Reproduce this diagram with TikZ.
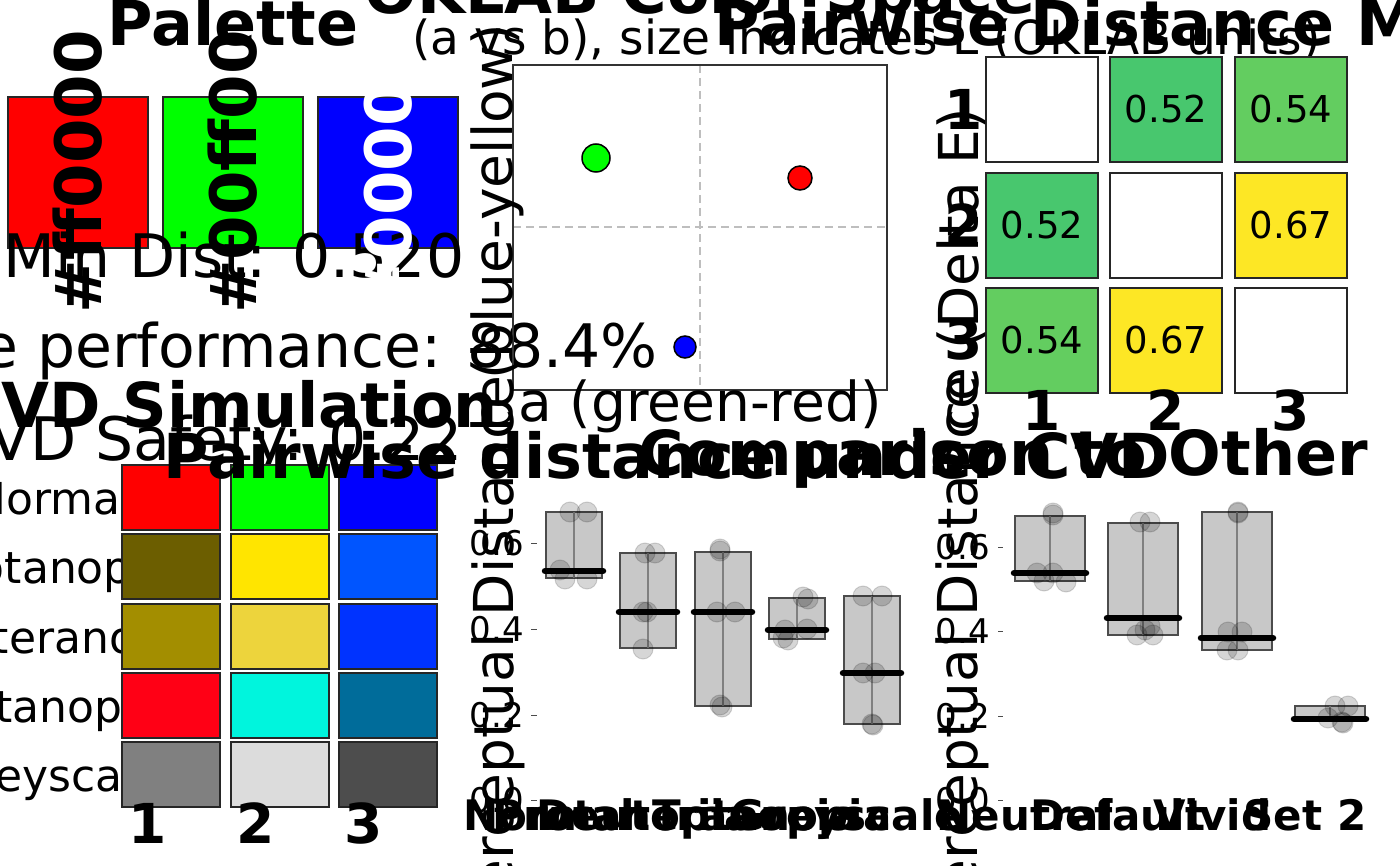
\documentclass[tikz,border=0pt]{standalone}
\usepackage{fontspec}
\setmainfont{DejaVu Sans}
\usetikzlibrary{calc}
\definecolor{grnA}{RGB}{72,199,110}
\definecolor{grnB}{RGB}{99,205,96}
\definecolor{yelC}{RGB}{253,231,37}
\definecolor{proA}{RGB}{108,94,0}
\definecolor{proB}{RGB}{255,229,0}
\definecolor{proC}{RGB}{0,85,255}
\definecolor{deuA}{RGB}{163,142,0}
\definecolor{deuB}{RGB}{237,212,60}
\definecolor{deuC}{RGB}{0,51,255}
\definecolor{triA}{RGB}{255,0,21}
\definecolor{triB}{RGB}{0,245,221}
\definecolor{triC}{RGB}{0,108,154}
\definecolor{greA}{RGB}{128,128,128}
\definecolor{greB}{RGB}{220,220,220}
\definecolor{greC}{RGB}{77,77,77}
\definecolor{boxgray}{RGB}{200,200,200}
\definecolor{dashgray}{RGB}{190,190,190}

\begin{document}
\begin{tikzpicture}[x=1pt, y=-1pt,
  ttl/.style={font=\fontsize{62}{62}\selectfont\bfseries, inner sep=0pt, anchor=base},
  sub/.style={font=\fontsize{60}{60}\selectfont, inner sep=0pt, anchor=base},
  axt/.style={font=\fontsize{55}{55}\selectfont, inner sep=0pt, anchor=base},
  lab/.style={font=\fontsize{44}{44}\selectfont, inner sep=0pt, anchor=base},
  num/.style={font=\fontsize{55}{55}\selectfont\bfseries, inner sep=0pt, anchor=base},
  cat/.style={font=\fontsize{42}{42}\selectfont\bfseries, inner sep=0pt, anchor=base},
  tck/.style={font=\fontsize{34}{34}\selectfont, inner sep=0pt, anchor=base east},
  cell/.style={draw=black!85, line width=1.5pt},
  bx/.style={draw=black!70, line width=1.5pt, fill=boxgray},
  jit/.style={fill=black, fill opacity=0.16, draw=black, draw opacity=0.15, line width=1pt}]
\useasboundingbox (0,0) rectangle (1400,866);
\clip (0,0) rectangle (1400,866);

% palette
\node[ttl] (palT) at (233,46) {Palette};
\foreach \x/\c in {8/red,163/green,318/blue}
  \draw[cell, fill=\c] (\x,97) rectangle ++(140,151);
\node[sub] (minD) at (234,278) {Min Dist: 0.520};
\node[sub, anchor=base east] (perf) at (658,368) {e performance: 88.4\%};
\foreach \x/\hex/\tc [count=\i] in {8/ff0000/black,163/00ff00/black,318/0000ff/white}
  \node[font=\fontsize{64}{64}\selectfont\bfseries, rotate=90, text=\tc, inner sep=0pt] (hex\i) at (\x+70,172) {\#\hex};

% oklab space
\node[ttl] (okT) at (700,14) {OKLAB Color Space};
\node[font=\fontsize{47}{47}\selectfont, inner sep=0pt, anchor=base west] (okS) at (412,55) {(a vs b), size indicates L (OKLAB units)};
\draw[dashgray, line width=1.5pt, dash pattern=on 8pt off 5pt] (700,65) -- (700,390) (513,227) -- (887,227);
\draw[black!80, line width=1.5pt] (513,65) rectangle (887,390);
\draw[fill=green, line width=1.5pt] (596,158) circle[radius=14pt];
\draw[fill=red, line width=1.5pt] (800,178) circle[radius=12pt];
\draw[fill=blue, line width=1.5pt] (685,347) circle[radius=11pt];
\node[axt] (aAx) at (700,421) {a (green-red)};
\node[axt, rotate=90] (bAx) at (512,228) {b (blue-yellow)};

% distance matrix
\node[ttl, anchor=base west] (pdmT) at (714,46) {Pairwise Distance Matrix};
\foreach \xa/\ya/\fc/\v [count=\i] in {986/57/white/{},1110/57/grnA/0.52,1235/57/grnB/0.54,
    986/173/grnA/0.52,1110/173/white/{},1235/173/yelC/0.67,
    986/288/grnB/0.54,1110/288/yelC/0.67,1235/288/white/{}}
  \draw[cell, fill=\fc] (\xa,\ya) rectangle ++(112,105)
    node[midway, font=\fontsize{37}{37}\selectfont] (dm\i) {\v};
\foreach \k/\yc in {1/110,2/225,3/340}
  \node[num, anchor=base east] (mr\k) at (983,\yc+20) {\k};
\foreach \k/\xc in {1/1042,2/1166,3/1291}
  \node[num] (mc\k) at (\xc,430) {\k};
\begin{scope}
  \clip (900,0) rectangle (1400,432);
  \node[axt, rotate=90] (dEax) at (978,358) {Distance (Delta E)};
\end{scope}

% cvd simulation
\node[ttl] (cvdT) at (227,428) {CVD Simulation};
\node[sub] (cvdS) at (205,460) {CVD Safety: 0.22};
\foreach \nm/\yc in {Normal/497,Protanopia/566,Deuteranopia/636,Tritanopia/705,Greyscale/774}
  \node[lab] (r\nm) at (53,\yc+17) {\nm};
\foreach \yr/\ca/\cb/\cc in {465/red/green/blue,534/proA/proB/proC,604/deuA/deuB/deuC,673/triA/triB/triC,742/greA/greB/greC}{
  \draw[cell, fill=\ca] (122,\yr) rectangle ++(98,65);
  \draw[cell, fill=\cb] (231,\yr) rectangle ++(98,65);
  \draw[cell, fill=\cc] (339,\yr) rectangle ++(98,65);
}
\foreach \k/\xc in {1/148,2/256,3/364}
  \node[num] (sc\k) at (\xc,843) {\k};

% pairwise distance boxplot
\foreach \xc/\lo/\hi/\md in {574/512/578/571,648/553/648/612,723/552/706/612,797/598/639/630,872/596/724/673}{
  \draw[bx] (\xc-28,\lo) rectangle (\xc+28,\hi);
  \draw[black!50, line width=1.5pt] (\xc,\lo) -- (\xc,\hi);
}
\foreach \px/\py in {570/512,587/512,560/570,565/579,587/579,645/553,655/553,643/612,647/612,643/649,
    720/549,720/551,717/612,735/612,720/705,722/707,803/597,808/599,785/630,807/629,788/640,783/638,
    863/596,882/596,863/673,875/673,872/724,873/725}
  \draw[jit] (\px,\py) circle[radius=10pt];
\foreach \xc/\md in {574/571,648/612,723/612,797/630,872/673}
  \draw[line width=6.5pt, line cap=round] (\xc-29,\md) -- (\xc+29,\md);
\foreach \v/\yy [count=\i] in {0.6/543,0.4/629,0.2/715,0.0/800}{
  \node[tck] (tm\i) at (524,\yy+12) {\v};
  \draw[black!70, line width=1pt] (531,\yy) -- (537,\yy);
}
\foreach \nm/\xc in {Normal/549,Protanopia/623,Deuteranopia/698,Tritanopia/772,Greyscale/847}
  \node[cat] (xm\nm) at (\xc,830) {\nm};
\node[axt, rotate=90] (pdM) at (513,650) {Perceptual Distance};
\node[ttl, anchor=base west] (pwT) at (163,478) {Pairwise distance under CVD};

% comparison boxplot
\foreach \xc/\lo/\hi/\md in {1050/516/581/573,1143/523/635/626,1237/512/650/632,1330/706/719/719}{
  \draw[bx] (\xc-35,\lo) rectangle (\xc+35,\hi);
  \draw[black!50, line width=1.5pt] (\xc,\lo) -- (\xc,\hi);
}
\foreach \px/\py in {1053/513,1053/515,1037/573,1053/573,1044/581,1066/582,1140/522,1150/522,1150/626,
    1145/630,1137/635,1153/635,1238/512,1238/513,1228/632,1242/632,1227/650,1238/650,
    1335/706,1348/706,1328/718,1342/722,1343/723}
  \draw[jit] (\px,\py) circle[radius=10pt];
\foreach \xc/\md in {1050/573,1143/618,1237/638,1330/719}
  \draw[line width=6.5pt, line cap=round] (\xc-36,\md) -- (\xc+36,\md);
\foreach \v/\yy [count=\i] in {0.6/547,0.4/631,0.2/716,0.0/800}{
  \node[tck] (tr\i) at (990,\yy+12) {\v};
  \draw[black!70, line width=1pt] (998,\yy) -- (1003,\yy);
}
\foreach \nm/\xc [count=\i] in {Neutral/1025,Default/1118,Vivid/1212,Set 2/1305}
  \node[cat] (xr\i) at (\xc,830) {\nm};
\node[axt, rotate=90] (pdR) at (977,650) {Perceptual Distance};
\node[ttl, anchor=base east] (cmpT) at (1368,475) {Comparison to Other};
\end{tikzpicture}
\end{document}
